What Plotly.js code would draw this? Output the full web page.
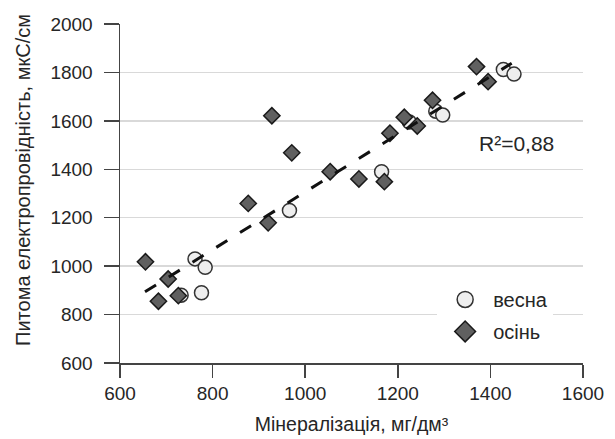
<!DOCTYPE html>
<html>
<head>
<meta charset="utf-8">
<script src="https://cdn.plot.ly/plotly-3.0.1.min.js"></script>
<style>html,body{margin:0;padding:0;background:#fff;}#chart{width:615px;height:439px;}</style>
</head>
<body>
<div id="chart"></div>
<script>
// Spring (весна)
const springX = [732, 762, 776, 784, 966, 1165, 1225, 1282, 1297, 1428, 1451];
const springY = [880, 1030, 890, 995, 1230, 1390, 1595, 1640, 1624, 1812, 1793];
// Autumn (осінь)
const autumnX = [655, 683, 704, 726, 877, 920, 928, 971, 1054, 1116, 1171, 1183, 1214, 1242, 1275, 1370, 1395];
const autumnY = [1018, 855, 947, 878, 1259, 1179, 1621, 1468, 1390, 1360, 1349, 1549, 1615, 1579, 1685, 1824, 1762];
// Linear trend line endpoints
const trendX = [654, 1446];
const trendY = [894, 1838];
const xTicks = [600, 800, 1000, 1200, 1400, 1600];
const yTicks = [600, 800, 1000, 1200, 1400, 1600, 1800, 2000];
const seriesNames = ['весна', 'осінь'];
const r2Label = 'R²=0,88';
const xTitle = 'Мінералізація, мг/дм³';
const yTitle = 'Питома електропровідність, мкС/см';

const FONT = 'Liberation Sans, Arial, sans-serif';
const TXT = '#262626';
const springStyle = {symbol: 'circle', color: '#eeeeee', line: {color: '#333333', width: 1.5}};
const autumnStyle = {symbol: 'diamond', color: '#606060', line: {color: '#1a1a1a', width: 1.5}};

const data = [
  {x: springX, y: springY, type: 'scatter', mode: 'markers', name: seriesNames[0], showlegend: false,
   marker: Object.assign({size: 14}, springStyle), cliponaxis: false},
  {x: autumnX, y: autumnY, type: 'scatter', mode: 'markers', name: seriesNames[1], showlegend: false,
   marker: Object.assign({size: 12.5}, autumnStyle), cliponaxis: false},
  {x: trendX, y: trendY, type: 'scatter', mode: 'lines', showlegend: false,
   line: {color: '#111111', width: 3, dash: '13px,15px'}},
  // legend entries
  {x: [null], y: [null], type: 'scatter', mode: 'markers', name: seriesNames[0], legendgroup: 'a',
   marker: Object.assign({size: 16}, springStyle)},
  {x: [null], y: [null], type: 'scatter', mode: 'markers', name: seriesNames[1], legendgroup: 'b',
   marker: Object.assign({size: 16}, autumnStyle)}
];

const layout = {
  width: 615, height: 439,
  margin: {l: 120, r: 32, t: 24, b: 76, pad: 0},
  paper_bgcolor: '#ffffff', plot_bgcolor: '#ffffff',
  font: {family: FONT, size: 19, color: TXT},
  showlegend: true,
  legend: {x: 0.685, y: 0.245, xanchor: 'left', yanchor: 'top', bgcolor: '#ffffff',
           font: {family: FONT, size: 20, color: TXT}, tracegroupgap: 3, itemwidth: 46,
           traceorder: 'grouped'},
  xaxis: {range: [600, 1600], tickvals: xTicks, ticktext: xTicks.map(String),
          showgrid: false, zeroline: false, showline: true, linecolor: '#444444', linewidth: 1.5,
          ticks: 'outside', ticklen: 13, tickwidth: 1.5, tickcolor: '#444444',
          tickfont: {family: FONT, size: 19, color: TXT},
          title: {text: xTitle, font: {family: FONT, size: 19.5, color: TXT}, standoff: 14}},
  yaxis: {range: [600, 2000], tickvals: yTicks, ticktext: yTicks.map(String),
          showgrid: true, gridcolor: '#d9d9d9', gridwidth: 1.5, zeroline: false,
          showline: true, linecolor: '#444444', linewidth: 1.5,
          ticks: 'outside', ticklen: 15, tickwidth: 1.5, tickcolor: '#444444', ticklabelstandoff: 7,
          tickfont: {family: FONT, size: 19, color: TXT}},
  annotations: [
    {x: 1457, y: 1508, xref: 'x', yref: 'y', text: r2Label, showarrow: false,
     xanchor: 'center', yanchor: 'middle', font: {family: FONT, size: 21, color: TXT}},
    {x: -0.2095, y: 0.54, xref: 'paper', yref: 'paper', text: yTitle, showarrow: false, textangle: -90,
     xanchor: 'center', yanchor: 'middle', font: {family: FONT, size: 20, color: TXT}}
  ]
};

Plotly.newPlot('chart', data, layout, {displayModeBar: false, staticPlot: true});
</script>
</body>
</html>
